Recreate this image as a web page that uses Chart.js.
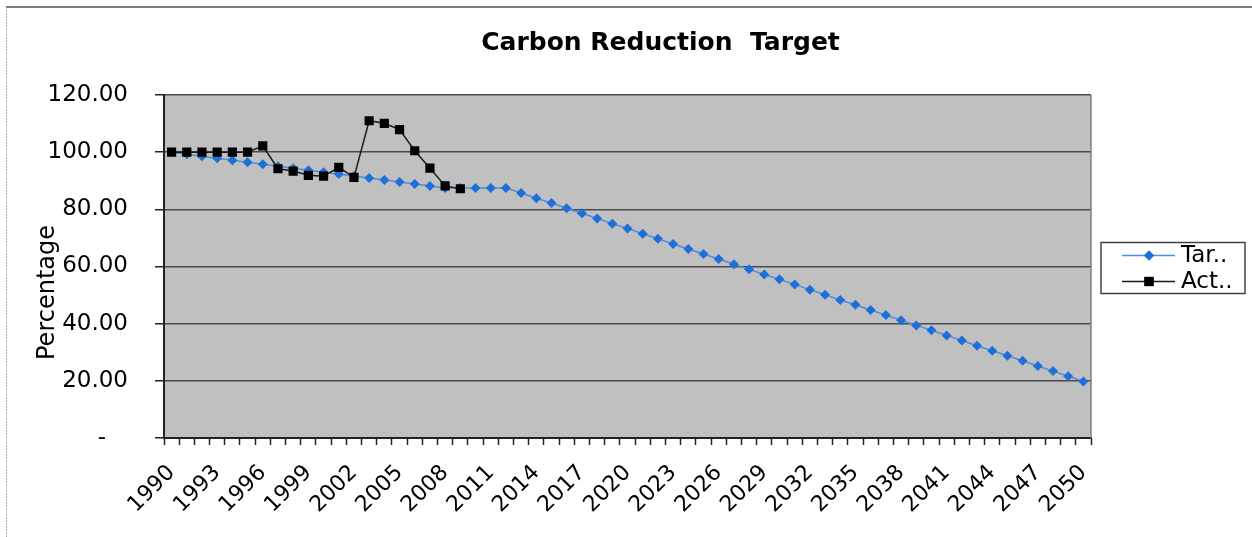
<!DOCTYPE html>
<html><head><meta charset="utf-8">
<script src="https://cdn.jsdelivr.net/npm/chart.js@4/dist/chart.umd.min.js"></script>
<style>html,body{margin:0;padding:0;background:#fff;} #wrap{width:1252px;height:537px;position:relative;} canvas{display:block;}</style>
</head><body><div id="wrap"><canvas id="c" width="1252" height="537"></canvas></div>
<script>
const years = ['1990','1991','1992','1993','1994','1995','1996','1997','1998','1999',
  '2000','2001','2002','2003','2004','2005','2006','2007','2008','2009',
  '2010','2011','2012','2013','2014','2015','2016','2017','2018','2019',
  '2020','2021','2022','2023','2024','2025','2026','2027','2028','2029',
  '2030','2031','2032','2033','2034','2035','2036','2037','2038','2039',
  '2040','2041','2042','2043','2044','2045','2046','2047','2048','2049','2050'];
const targetValues = [100.0,99.3,98.6,97.9,97.2,96.5,95.8,95.1,94.4,93.7,
  93.0,92.4,91.7,91.0,90.3,89.6,88.9,88.2,87.5,87.5,
  87.5,87.5,87.5,85.7,83.9,82.2,80.4,78.6,76.8,75.0,
  73.3,71.5,69.7,67.9,66.1,64.4,62.6,60.8,59.0,57.2,
  55.5,53.7,51.9,50.1,48.3,46.6,44.8,43.0,41.2,39.4,
  37.7,35.9,34.1,32.3,30.5,28.8,27.0,25.2,23.4,21.6,19.8];
const actualValues = [100.0,100.0,100.0,100.0,100.0,100.0,102.2,94.2,93.4,91.9,
  91.6,94.7,91.2,111.0,110.1,107.9,100.5,94.4,88.2,87.2];
const seriesNames = ['Tar..','Act..'];
const chartTitle = 'Carbon Reduction  Target';
const yAxisTitle = 'Percentage';
const yMin = 0, yMax = 120, yStep = 20;

const FONT = '"DejaVu Sans", "Liberation Sans", Arial, sans-serif';

const decor = {
  id: 'decor',
  beforeDraw(chart) {
    const ctx = chart.ctx, ca = chart.chartArea;
    ctx.save();
    ctx.fillStyle = '#fff';
    ctx.fillRect(0, 0, chart.width, chart.height);
    ctx.strokeStyle = '#7a7a7a'; ctx.lineWidth = 2;
    ctx.beginPath(); ctx.moveTo(6, 7); ctx.lineTo(chart.width, 7); ctx.stroke();
    ctx.strokeStyle = '#a8a8a8'; ctx.lineWidth = 1;
    ctx.setLineDash([2, 1]);
    ctx.beginPath(); ctx.moveTo(6.5, 7); ctx.lineTo(6.5, chart.height); ctx.stroke();
    ctx.setLineDash([]);
    ctx.fillStyle = '#c0c0c0';
    ctx.fillRect(ca.left, ca.top, ca.right - ca.left, ca.bottom - ca.top);
    ctx.restore();
  },
  beforeDatasetsDraw(chart) {
    const ctx = chart.ctx, ca = chart.chartArea;
    ctx.save();
    ctx.strokeStyle = '#808080'; ctx.lineWidth = 1.5;
    ctx.beginPath(); ctx.moveTo(ca.right, ca.top); ctx.lineTo(ca.right, ca.bottom); ctx.stroke();
    ctx.restore();
  },
  afterDraw(chart) {
    const ctx = chart.ctx, ca = chart.chartArea;
    ctx.save();
    ctx.fillStyle = '#000';
    ctx.font = 'bold 25px ' + FONT;
    ctx.textAlign = 'center'; ctx.textBaseline = 'alphabetic';
    ctx.fillText(chartTitle, (ca.left + ca.right) / 2 + 33, 50);
    ctx.save();
    ctx.translate(48, (ca.top + ca.bottom) / 2 + 26);
    ctx.rotate(-Math.PI / 2);
    ctx.font = '24px ' + FONT;
    ctx.textAlign = 'center'; ctx.textBaseline = 'middle';
    ctx.fillText(yAxisTitle, 0, 0);
    ctx.restore();
    const lx = ca.right + 10, lw = 144, lh = 51;
    const ly = chart.height / 2 - 26;
    ctx.fillStyle = '#fff';
    ctx.fillRect(lx, ly, lw, lh);
    ctx.strokeStyle = '#404040'; ctx.lineWidth = 1.5;
    ctx.strokeRect(lx, ly, lw, lh);
    const rows = [ly + 13, ly + 39];
    chart.data.datasets.forEach((ds, i) => {
      const y = rows[i];
      ctx.strokeStyle = ds.borderColor; ctx.lineWidth = ds.borderWidth;
      ctx.beginPath(); ctx.moveTo(lx + 21, y); ctx.lineTo(lx + 74, y); ctx.stroke();
      ctx.fillStyle = ds.pointBackgroundColor;
      Chart.helpers.drawPoint(ctx, {pointStyle: ds.pointStyle, radius: ds.pointRadius, borderWidth: 0, rotation: 0}, lx + 48, y);
      ctx.fill();
      ctx.fillStyle = '#000';
      ctx.font = '23px ' + FONT;
      ctx.textAlign = 'left'; ctx.textBaseline = 'middle';
      ctx.fillText(ds.label, lx + 80, y + 1);
    });
    ctx.restore();
  }
};

new Chart(document.getElementById('c'), {
  type: 'line',
  data: {
    labels: years,
    datasets: [
      {label: seriesNames[0], data: targetValues, borderColor: '#4a8ee0', backgroundColor: '#1f6fd8',
       borderWidth: 1.5, pointStyle: 'rectRot', pointRadius: 5, pointBorderWidth: 0,
       pointBackgroundColor: '#1f6fd8', pointBorderColor: '#1f6fd8', order: 2, tension: 0},
      {label: seriesNames[1], data: actualValues, borderColor: '#1a1a1a', backgroundColor: '#000',
       borderWidth: 1.5, pointStyle: 'rect', pointRadius: 6.5, pointBorderWidth: 0,
       pointBackgroundColor: '#000', pointBorderColor: '#000', order: 1, tension: 0}
    ]
  },
  options: {
    responsive: false, animation: false, devicePixelRatio: 1,
    layout: {padding: {left: 0, top: 95, right: 161, bottom: 0}},
    plugins: {legend: {display: false}, title: {display: false}, tooltip: {enabled: false}},
    scales: {
      x: {
        type: 'category', offset: true,
        grid: {offset: true, drawOnChartArea: false, drawTicks: true, tickLength: 7, tickColor: '#222', tickWidth: 1.5},
        border: {display: true, color: '#222', width: 2},
        ticks: {autoSkip: false, maxRotation: 45, minRotation: 45, color: '#000', padding: 15,
                font: {family: FONT, size: 22},
                callback: (v, i) => (i % 3 === 0 ? years[i] : '')},
        afterFit: (s) => { s.height = 99; }
      },
      y: {
        min: yMin, max: yMax,
        ticks: {stepSize: yStep, color: '#000', padding: 27, font: {family: FONT, size: 23},
                callback: (v) => (v === 0 ? '-   ' : Number(v).toFixed(2))},
        grid: {color: '#4a4a4a', lineWidth: 1.5, tickLength: 9, tickColor: '#222', drawTicks: true},
        border: {color: '#222', width: 2},
        afterFit: (s) => { s.width = 164; }
      }
    }
  },
  plugins: [decor]
});
</script>
</body></html>
